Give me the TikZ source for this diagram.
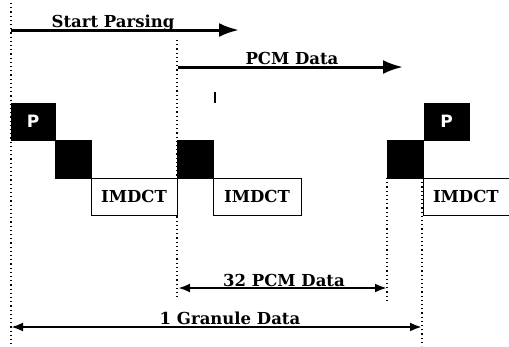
\documentclass[tikz,border=0pt]{standalone}
\usepackage{fontspec}
\setmainfont{DejaVu Serif}
\newfontfamily\psans{DejaVu Sans}
\usetikzlibrary{arrows.meta}
\begin{document}
\begin{tikzpicture}[x=1pt,y=-1pt,
  guide/.style={line width=1.5pt,dash pattern=on 1.2pt off 3pt},
  bigarrow/.style={line width=3pt,-{Latex[length=20pt,width=14pt]}},
  dimarrow/.style={line width=2.4pt,{Latex[length=12pt,width=9pt]}-{Latex[length=12pt,width=9pt]}},
  lbl/.style={font=\bfseries\fontsize{16.5}{18}\selectfont,inner sep=0pt,anchor=base},
  blackbox/.style={fill=black,draw=black,anchor=north west,inner sep=0pt,outer sep=0pt,
    text=white,font=\psans\bfseries\fontsize{17}{19}\selectfont},
  whitebox/.style={fill=white,draw=black,line width=1pt,anchor=north west,inner sep=0pt,outer sep=0pt,
    font=\bfseries\fontsize{16.5}{18}\selectfont}]
\useasboundingbox (0,0) rectangle (509,346);
% guide coordinates
\coordinate (g1t) at (11,3);   \coordinate (g1b) at (11,346);
\coordinate (g2t) at (177,40); \coordinate (g2b) at (177,300);
\coordinate (g3t) at (387,178);\coordinate (g3b) at (387,300);
\coordinate (g4t) at (422,178);\coordinate (g4b) at (422,346);
\draw[guide] (g1t) -- (g1b);
\draw[guide] (g2t) -- (g2b);
\draw[guide] (g3t) -- (g3b);
\draw[guide] (g4t) -- (g4b);
% boxes
\node[blackbox,minimum width=44pt,minimum height=37pt] (p1) at (11,103) {P};
\node[blackbox,minimum width=36pt,minimum height=38pt] (b2) at (55,140) {};
\node[whitebox,minimum width=86pt,minimum height=37pt] (i1) at (91,178) {IMDCT};
\node[blackbox,minimum width=36pt,minimum height=38pt] (b3) at (177,140) {};
\node[whitebox,minimum width=88pt,minimum height=37pt] (i2) at (213,178) {IMDCT};
\node[blackbox,minimum width=36pt,minimum height=38pt] (b4) at (387,140) {};
\node[blackbox,minimum width=45pt,minimum height=37pt] (p2) at (424,103) {P};
\node[whitebox,minimum width=92pt,minimum height=37pt,text width=84pt,align=left] (i3) at (423,178) {\hspace*{6pt}IMDCT};
% top arrows
\coordinate (sp0) at (11,30);  \coordinate (sp1) at (239,30);
\draw[bigarrow] (sp0) -- (sp1);
\node[lbl] (spl) at (113,27) {Start Parsing};
\coordinate (pc0) at (178,67); \coordinate (pc1) at (403,67);
\draw[bigarrow] (pc0) -- (pc1);
\node[lbl] (pcl) at (292,64) {PCM Data};
% stray mark
\coordinate (m0) at (215,92); \coordinate (m1) at (215,103);
\draw[line width=1.8pt] (m0) -- (m1);
% bottom dimension arrows
\coordinate (d0) at (178,288); \coordinate (d1) at (387,288);
\draw[dimarrow] (d0) -- (d1);
\node[lbl] (dl) at (284,286) {32 PCM Data};
\coordinate (e0) at (11,327); \coordinate (e1) at (422,327);
\draw[dimarrow] (e0) -- (e1);
\node[lbl] (el) at (230,324) {1 Granule Data};
\end{tikzpicture}
\end{document}
